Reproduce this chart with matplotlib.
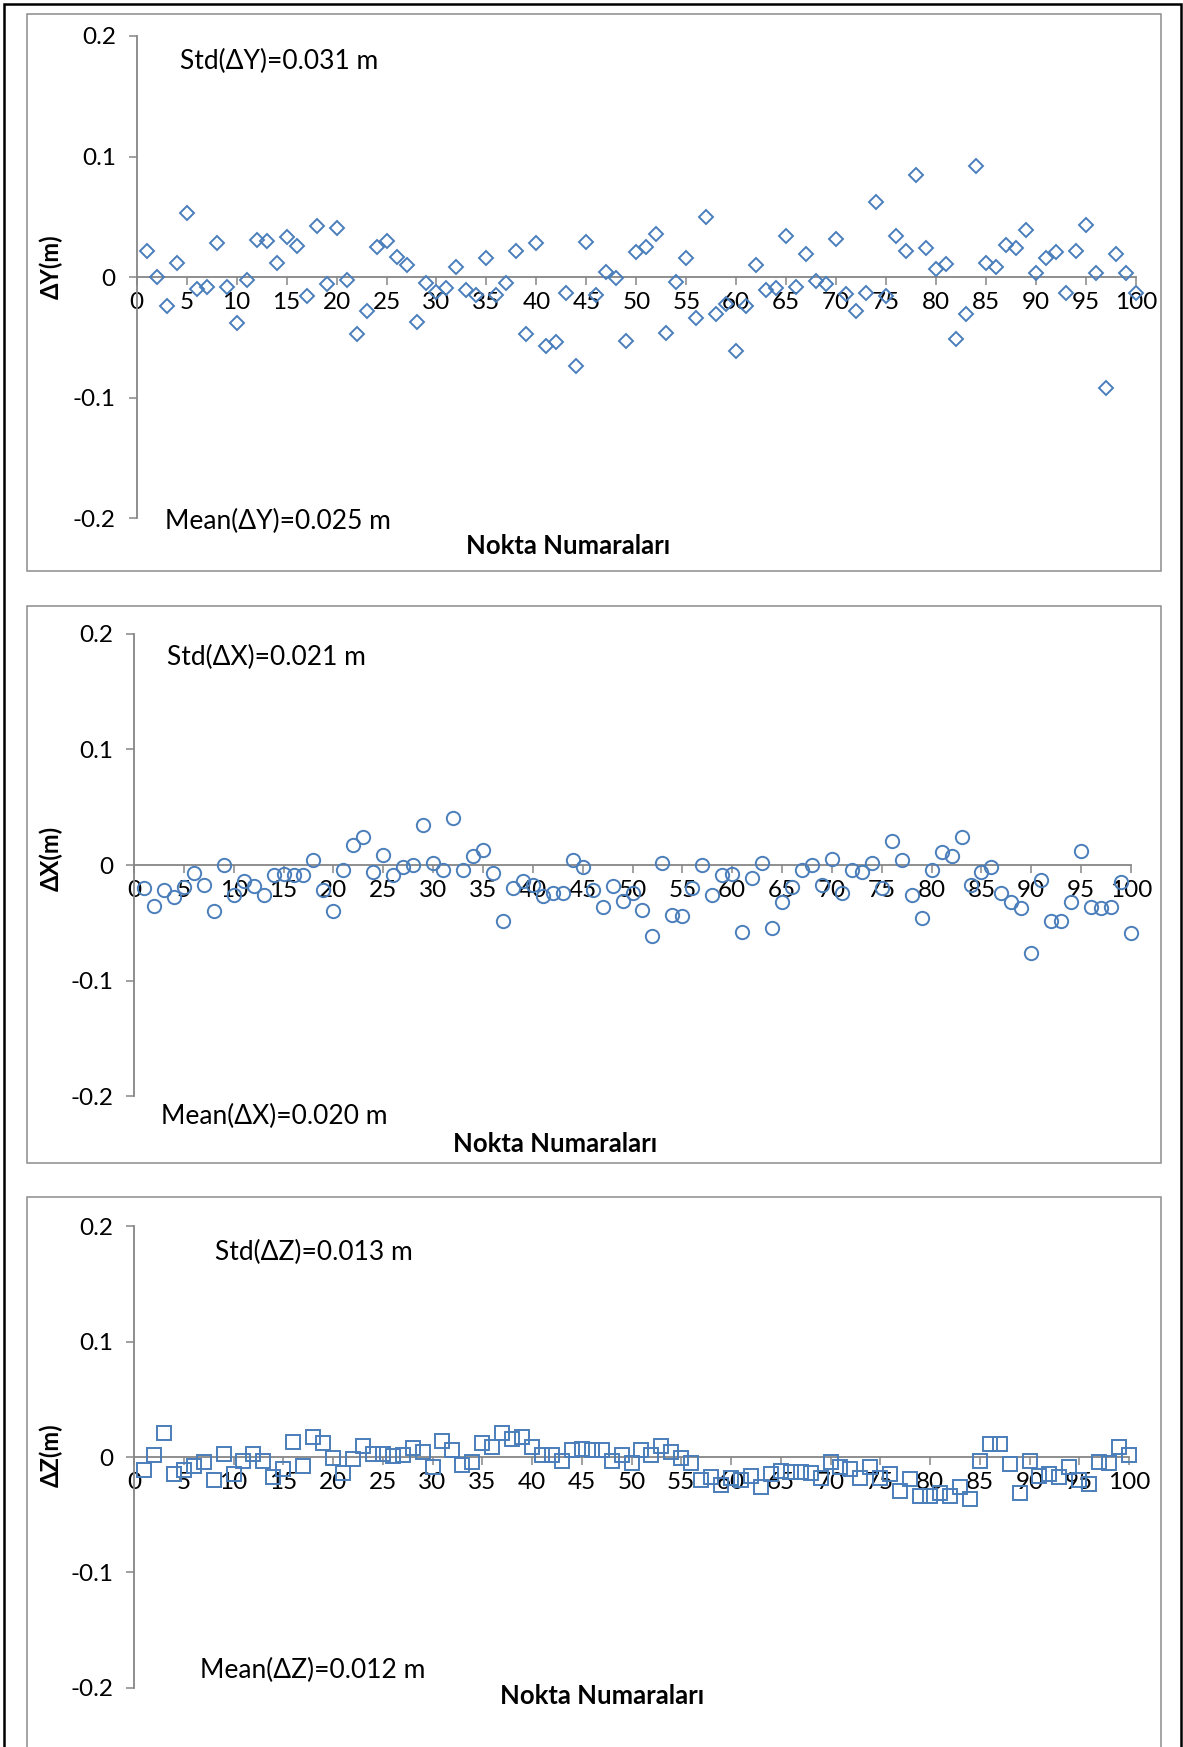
import matplotlib
matplotlib.use("Agg")
import matplotlib.pyplot as plt
from matplotlib.patches import Rectangle

plt.rcParams['font.family'] = ['Lato', 'DejaVu Sans']

# Point numbers and residuals (m)
points = list(range(1, 101))

dy = [0.022, 0.000, -0.024, 0.012, 0.053, -0.010, -0.008, 0.028, -0.008, -0.038,
      -0.002, 0.031, 0.030, 0.012, 0.033, 0.026, -0.016, 0.042, -0.006, 0.041,
      -0.002, -0.047, -0.028, 0.025, 0.030, 0.017, 0.010, -0.037, -0.005, -0.012,
      -0.009, 0.008, -0.011, -0.015, 0.016, -0.015, -0.005, 0.022, -0.047, 0.028,
      -0.057, -0.054, -0.013, -0.074, 0.029, -0.015, 0.004, -0.001, -0.053, 0.021,
      0.025, 0.036, -0.046, -0.004, 0.016, -0.034, 0.050, -0.031, -0.022, -0.061,
      -0.024, 0.010, -0.011, -0.009, 0.034, -0.008, 0.019, -0.003, -0.006, 0.032,
      -0.014, -0.028, -0.013, 0.062, -0.016, 0.034, 0.022, 0.085, 0.024, 0.007,
      0.011, -0.051, -0.031, 0.092, 0.012, 0.008, 0.027, 0.024, 0.039, 0.003,
      0.016, 0.021, -0.013, 0.022, 0.043, 0.003, -0.092, 0.019, 0.003, -0.013]

dx = [-0.020, -0.035, -0.022, -0.028, -0.019, -0.007, -0.017, -0.040, 0.000, -0.026,
      -0.014, -0.018, -0.026, -0.009, -0.008, -0.009, -0.009, 0.004, -0.022, -0.040,
      -0.004, 0.017, 0.024, -0.006, 0.009, -0.009, -0.002, 0.000, 0.035, 0.002,
      -0.004, 0.041, -0.004, 0.008, 0.013, -0.007, -0.048, -0.020, -0.014, -0.017,
      -0.027, -0.024, -0.024, 0.004, -0.002, -0.022, -0.036, -0.018, -0.031, -0.024,
      -0.039, -0.061, 0.002, -0.043, -0.044, -0.020, 0.000, -0.026, -0.009, -0.008,
      -0.058, -0.011, 0.002, -0.054, -0.032, -0.019, -0.004, 0.000, -0.017, 0.005,
      -0.024, -0.004, -0.006, 0.002, -0.020, 0.021, 0.004, -0.026, -0.046, -0.004,
      0.011, 0.008, 0.024, -0.017, -0.006, -0.002, -0.024, -0.032, -0.037, -0.076,
      -0.013, -0.048, -0.048, -0.032, 0.012, -0.036, -0.037, -0.036, -0.015, -0.059]

dz = [-0.011, 0.002, 0.021, -0.015, -0.011, -0.008, -0.004, -0.020, 0.003, -0.015,
      -0.003, 0.003, -0.003, -0.017, -0.010, 0.013, -0.008, 0.017, 0.012, -0.001,
      -0.014, -0.002, 0.010, 0.003, 0.003, 0.001, 0.002, 0.008, 0.004, -0.009,
      0.014, 0.006, -0.007, -0.004, 0.012, 0.009, 0.021, 0.016, 0.017, 0.009,
      0.002, 0.002, -0.003, 0.006, 0.007, 0.006, 0.006, -0.003, 0.002, -0.005,
      0.006, 0.002, 0.010, 0.004, -0.001, -0.005, -0.020, -0.017, -0.024, -0.018,
      -0.020, -0.016, -0.026, -0.015, -0.012, -0.013, -0.013, -0.014, -0.018, -0.004,
      -0.009, -0.010, -0.018, -0.009, -0.018, -0.015, -0.029, -0.019, -0.034, -0.034,
      -0.031, -0.034, -0.026, -0.036, -0.003, 0.011, 0.011, -0.006, -0.031, -0.003,
      -0.016, -0.015, -0.017, -0.009, -0.020, -0.023, -0.004, -0.005, 0.009, 0.002]

x_ticks = list(range(0, 101, 5))
x_tick_labels = [str(v) for v in x_ticks]
y_ticks = [-0.2, -0.1, 0.0, 0.1, 0.2]
y_tick_labels = ['-0.2', '-0.1', '0', '0.1', '0.2']

y_labels = ['ΔY(m)', 'ΔX(m)', 'ΔZ(m)']
std_texts = ['Std(ΔY)=0.031 m', 'Std(ΔX)=0.021 m', 'Std(ΔZ)=0.013 m']
mean_texts = ['Mean(ΔY)=0.025 m', 'Mean(ΔX)=0.020 m', 'Mean(ΔZ)=0.012 m']
x_label = 'Nokta Numaraları'

W, H = 1183, 1747
fig = plt.figure(figsize=(W / 100, H / 100), dpi=100)

def fx(px):
    return px / W

def fy(py):
    return 1 - py / H

AXIS_GRAY = '#868686'
BLUE = '#4a7ebb'

# Outer frame and chart-area boxes (pixel coordinates)
fig.patches.append(Rectangle((fx(4), fy(1760)), fx(1181) - fx(4), fy(3.5) - fy(1760),
                             transform=fig.transFigure, fill=False,
                             edgecolor='black', linewidth=1.8))
for top, bottom in [(13.8, 570.6), (605.7, 1162.6), (1197.4, 1760)]:
    fig.patches.append(Rectangle((fx(26.7), fy(bottom)), fx(1161) - fx(26.7),
                                 fy(top) - fy(bottom), transform=fig.transFigure,
                                 fill=False, edgecolor='#8c8c8c', linewidth=1.1))

# Plot areas: (left, right, y of 0.2, y of -0.2) in pixels
areas = [(136.7, 1136.0, 36.0, 518.2),
         (134.0, 1131.0, 633.7, 1096.4),
         (134.0, 1129.0, 1226.3, 1687.8)]
series = [dy, dx, dz]
markers = [('D', 7.0), ('o', 9.6), ('s', 9.6)]

std_pos = [(180, 61), (167, 657), (215, 1252)]
mean_pos = [(165, 521), (161, 1116), (200, 1670)]
xlabel_pos = [(568, 546), (555, 1144), (602, 1696)]
ylabel_pos = [(51, 267), (51, 858), (51, 1455)]

for k in range(3):
    l, r, t, b = areas[k]
    ax = fig.add_axes([fx(l), fy(b), fx(r) - fx(l), fy(t) - fy(b)])
    ax.set_facecolor('none')
    m, ms = markers[k]
    ax.plot(points, series[k], linestyle='none', marker=m, markersize=ms,
            markerfacecolor='none', markeredgecolor=BLUE, markeredgewidth=1.4,
            clip_on=False, zorder=3)
    ax.set_xlim(0, 100)
    ax.set_ylim(-0.2, 0.2)
    for s in ['top', 'right']:
        ax.spines[s].set_visible(False)
    ax.spines['bottom'].set_position(('data', 0))
    for s in ['left', 'bottom']:
        ax.spines[s].set_color(AXIS_GRAY)
        ax.spines[s].set_linewidth(1.3)
    ax.set_xticks(x_ticks, x_tick_labels)
    ax.set_yticks(y_ticks, y_tick_labels)
    ax.tick_params(axis='both', direction='out', color=AXIS_GRAY, width=1.1,
                   length=6, labelsize=17.5, labelcolor='black')
    ax.tick_params(axis='y', pad=9)
    ax.tick_params(axis='x', pad=5)

    fig.text(fx(std_pos[k][0]), fy(std_pos[k][1]), std_texts[k], fontsize=19,
             ha='left', va='center')
    fig.text(fx(mean_pos[k][0]), fy(mean_pos[k][1]), mean_texts[k], fontsize=19,
             ha='left', va='center')
    fig.text(fx(xlabel_pos[k][0]), fy(xlabel_pos[k][1]), x_label, fontsize=18.5,
             fontweight='bold', ha='center', va='center')
    fig.text(fx(ylabel_pos[k][0]), fy(ylabel_pos[k][1]), y_labels[k], fontsize=17,
             fontweight='bold', ha='center', va='center', rotation=90)

fig.savefig('out.png', dpi=100)
